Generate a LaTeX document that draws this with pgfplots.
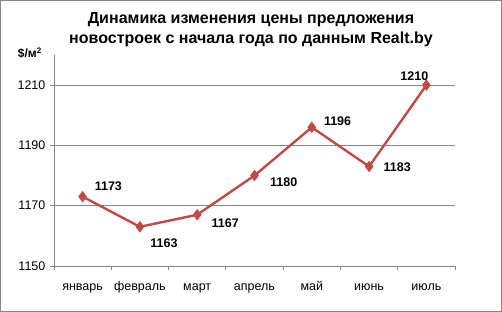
\documentclass[border=0pt]{standalone}
\usepackage{pgfplots}
\pgfplotsset{compat=1.18}
\usepackage{fontspec}
\setmainfont{Liberation Sans}
\definecolor{lred}{HTML}{BE4B48}
\definecolor{axgray}{HTML}{868686}
\begin{document}
\begin{tikzpicture}
\begin{axis}[
  scale only axis, width=401pt, height=211pt,
  xmin=-0.5, xmax=6.5, ymin=1150, ymax=1220,
  axis lines*=left,
  axis line style={axgray, line width=0.8pt},
  xtick={-0.5,0.5,...,6.5}, xticklabels={},
  extra x ticks={0,1,2,3,4,5,6},
  extra x tick labels={январь,февраль,март,апрель,май,июнь,июль},
  extra x tick style={major tick length=0pt, grid=none},
  ytick={1150,1170,1190,1210},
  ymajorgrids, grid style={axgray, line width=0.6pt},
  tick style={axgray, line width=0.8pt},
  major tick length=4pt,
  tick align=outside,
  tick label style={font=\fontsize{12.5}{14}\selectfont},
  /pgf/number format/assume math mode=true,
  /pgf/number format/set thousands separator={},
  xticklabel style={yshift=-12pt, text height=9pt, text depth=2.5pt},
  yticklabel style={xshift=-1pt},
  clip=false,
]
\draw[axgray, line width=0.8pt] (rel axis cs:-0.1334,-0.2156) rectangle (rel axis cs:1.1160,1.2583);
\node[font=\fontsize{16}{20}\selectfont\bfseries, align=center] at (rel axis cs:0.4913,1.1185) {Динамика изменения цены предложения\\новостроек с начала года по данным Realt.by};
\node[font=\fontsize{12}{14}\selectfont\bfseries] at (rel axis cs:-0.0599,1.0095) {\$/м$^{\mathbf 2}$};
\addplot[lred, line width=2.4pt, mark=diamond*, mark size=3.8pt, mark options={solid, fill=lred}] coordinates {
(0,1173) (1,1163) (2,1167) (3,1180) (4,1196) (5,1183) (6,1210)};
\begin{scope}[every node/.style={font=\fontsize{12.5}{14}\selectfont\bfseries}]
\node at (axis cs:0.45,1176.6) {1173};
\node at (axis cs:1.42,1157.7) {1163};
\node at (axis cs:2.49,1164.3) {1167};
\node at (axis cs:3.51,1177.7) {1180};
\node at (axis cs:4.45,1198) {1196};
\node at (axis cs:5.49,1182.7) {1183};
\node at (axis cs:5.79,1213) {1210};
\end{scope}
\end{axis}
\end{tikzpicture}
\end{document}
